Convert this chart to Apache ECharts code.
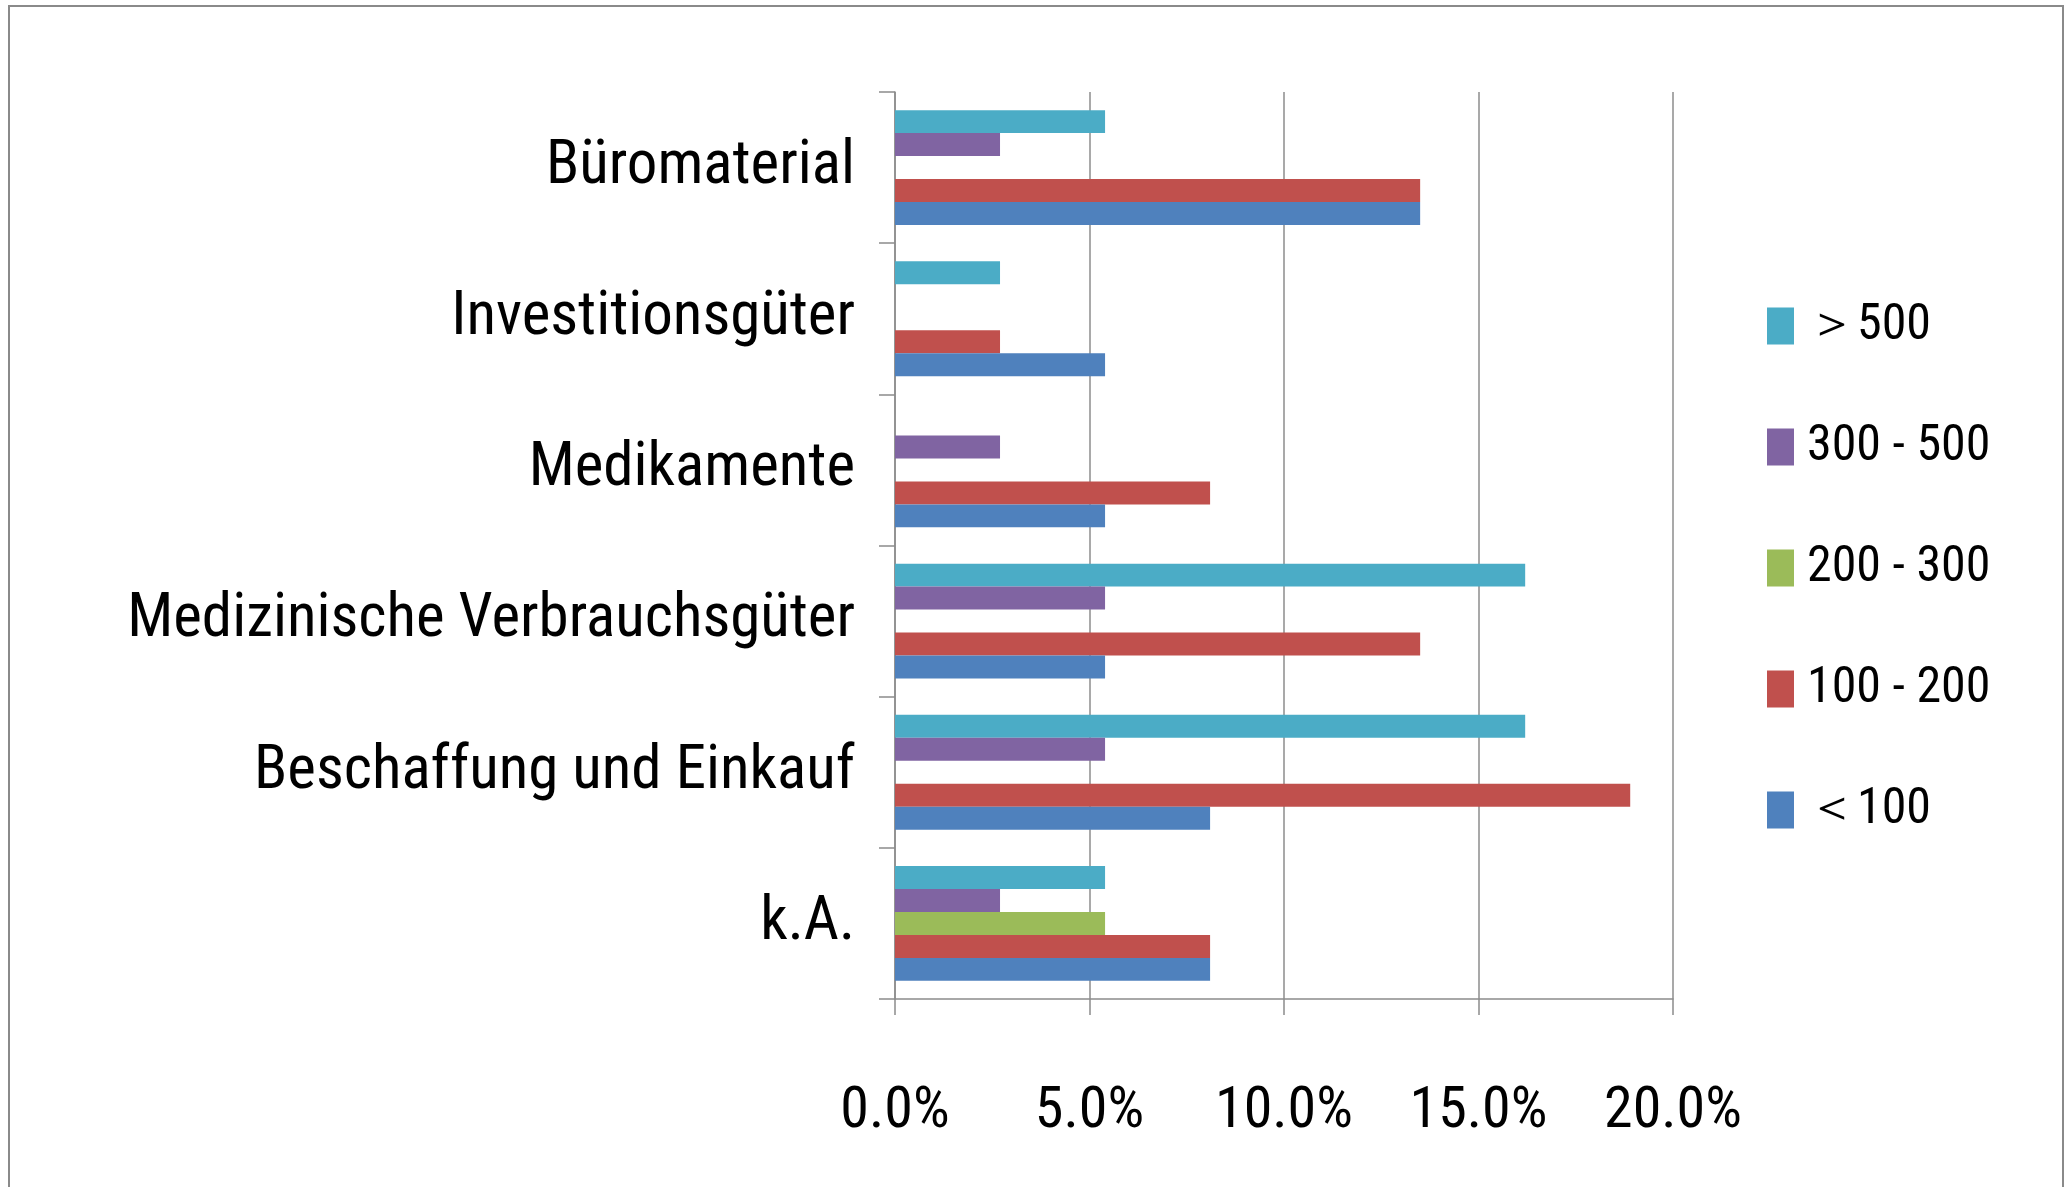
<!DOCTYPE html>
<html>
<head>
<meta charset="utf-8">
<script src="https://cdn.jsdelivr.net/npm/echarts@6/dist/echarts.min.js"></script>
<style>
  html, body { margin: 0; padding: 0; background: #fff; }
  #chart { width: 2069px; height: 1187px; }
</style>
</head>
<body>
<div id="chart"></div>
<script>
// categories listed bottom -> top (category axis starts at the bottom)
var categories = ['k.A.', 'Beschaffung und Einkauf', 'Medizinische Verbrauchsgüter', 'Medikamente', 'Investitionsgüter', 'Büromaterial'];
// share in percent per size class
var lt100   = [8.1, 8.1, 5.4, 5.4, 5.4, 13.5];
var s100200 = [8.1, 18.9, 13.5, 8.1, 2.7, 13.5];
var s200300 = [5.4, 0, 0, 0, 0, 0];
var s300500 = [2.7, 5.4, 5.4, 2.7, 0, 2.7];
var gt500   = [5.4, 16.2, 16.2, 0, 2.7, 5.4];
var xTicks = [0, 5, 10, 15, 20];

// condensed Roboto comes closest to the narrow face of the original
var FONT = 'Roboto';
var STRETCH = 'condensed';
var GRAY = '#8c8c8c';

var chart = echarts.init(document.getElementById('chart'));

function barSeries(name, data, color) {
    return {
        name: name,
        type: 'bar',
        data: data,
        barGap: '0%',
        barCategoryGap: '24%',
        itemStyle: { color: color },
        emphasis: { disabled: true }
    };
}

var option = {
    backgroundColor: '#fff',
    animation: false,
    graphic: [{
        type: 'rect',
        shape: { x: 9, y: 6, width: 2054, height: 1220 },
        style: { fill: 'none', stroke: '#8a8a8a', lineWidth: 2 },
        silent: true
    }],
    grid: {
        left: 895,
        right: 396,
        top: 92,
        bottom: 188,
        containLabel: false,
        outerBoundsMode: 'none'
    },
    legend: {
        orient: 'vertical',
        left: 1762,
        top: 296,
        itemWidth: 27,
        itemHeight: 37,
        itemGap: 71,
        icon: 'rect',
        data: ['＞500', '300 - 500', '200 - 300', '100 - 200', '＜100'],
        textStyle: {
            fontFamily: FONT, fontWeight: STRETCH,
            fontSize: 50, lineHeight: 50, color: '#000', padding: [0, 0, 0, 8]
        }
    },
    xAxis: {
        type: 'value',
        min: xTicks[0],
        max: xTicks[xTicks.length - 1],
        interval: 5,
        axisLine: { show: true, lineStyle: { color: GRAY, width: 1.5 } },
        axisTick: { show: true, length: 16, lineStyle: { color: GRAY, width: 1.5 } },
        splitLine: { show: true, lineStyle: { color: GRAY, width: 1.5 } },
        axisLabel: {
            margin: 84,
            fontFamily: FONT, fontWeight: STRETCH,
            fontSize: 58,
            lineHeight: 58,
            color: '#000',
            formatter: function (v) { return v.toFixed(1) + '%'; }
        }
    },
    yAxis: {
        type: 'category',
        data: categories,
        axisLine: { show: true, lineStyle: { color: GRAY, width: 1.5 } },
        axisTick: { show: true, length: 16, lineStyle: { color: GRAY, width: 1.5 } },
        axisLabel: {
            margin: 40,
            fontFamily: FONT, fontWeight: STRETCH,
            fontSize: 61,
            color: '#000'
        }
    },
    series: [
        barSeries('＞500', gt500, '#4bacc6'),
        barSeries('300 - 500', s300500, '#8064a2'),
        barSeries('200 - 300', s200300, '#9bbb59'),
        barSeries('100 - 200', s100200, '#c0504d'),
        barSeries('＜100', lt100, '#4f81bd')
    ]
};

chart.setOption(option);
</script>
</body>
</html>
